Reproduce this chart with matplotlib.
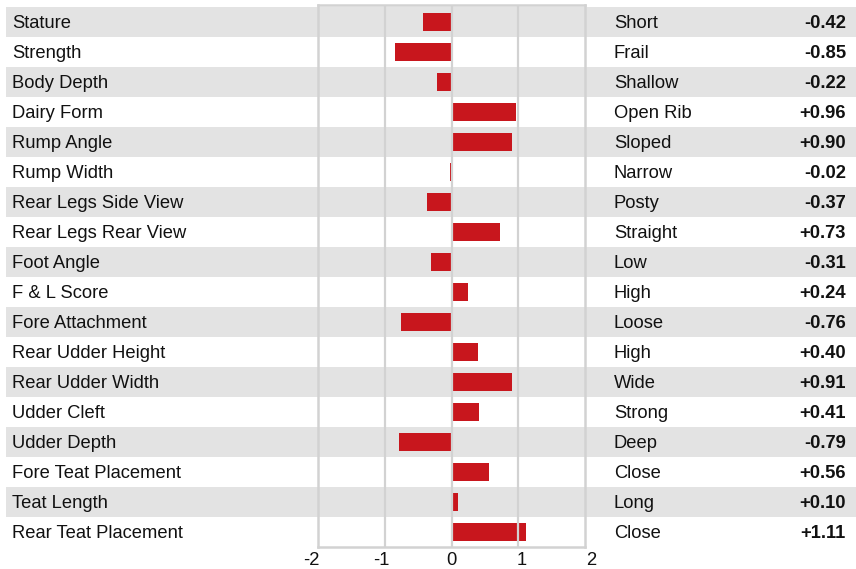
import matplotlib
matplotlib.use('Agg')
import matplotlib.pyplot as plt
from matplotlib.patches import Rectangle
from matplotlib.transforms import blended_transform_factory

traits = ['Stature', 'Strength', 'Body Depth', 'Dairy Form', 'Rump Angle', 'Rump Width',
          'Rear Legs Side View', 'Rear Legs Rear View', 'Foot Angle', 'F & L Score',
          'Fore Attachment', 'Rear Udder Height', 'Rear Udder Width', 'Udder Cleft',
          'Udder Depth', 'Fore Teat Placement', 'Teat Length', 'Rear Teat Placement']
descriptors = ['Short', 'Frail', 'Shallow', 'Open Rib', 'Sloped', 'Narrow',
               'Posty', 'Straight', 'Low', 'High', 'Loose', 'High', 'Wide', 'Strong',
               'Deep', 'Close', 'Long', 'Close']
values = [-0.42, -0.85, -0.22, 0.96, 0.90, -0.02, -0.37, 0.73, -0.31, 0.24,
          -0.76, 0.40, 0.91, 0.41, -0.79, 0.56, 0.10, 1.11]
x_ticks = [-2, -1, 0, 1, 2]

plt.rcParams['font.family'] = ['Liberation Sans', 'DejaVu Sans']

W, H = 856, 569
row_top, row_h = 7, 30
band_color = '#e3e3e3'
bar_color = '#c8161d'
line_color = '#d2d2d2'
font_size = 13.2
base_off = 6  # baseline offset below row centre, px

fig = plt.figure(figsize=(W / 100, H / 100), dpi=100)

# background layer in pixel coordinates: bands and text columns
bg = fig.add_axes([0, 0, 1, 1])
bg.set_xlim(0, W)
bg.set_ylim(H, 0)
bg.axis('off')
for i, (trait, desc, val) in enumerate(zip(traits, descriptors, values)):
    y0 = row_top + row_h * i
    if i % 2 == 0:
        bg.add_patch(Rectangle((6, y0), W - 6, row_h, color=band_color, lw=0))
    yb = y0 + row_h / 2 + base_off
    bg.text(12, yb, trait, ha='left', va='baseline', fontsize=font_size, color='#111111')
    bg.text(614, yb, desc, ha='left', va='baseline', fontsize=font_size, color='#111111')
    bg.text(846, yb, '%+.2f' % val, ha='right', va='baseline', fontsize=font_size,
            fontweight='bold', color='#111111')

# bar panel
px_left, px_right, px_top, px_bottom = 318, 585, 5, 547
ax = fig.add_axes([px_left / W, (H - px_bottom) / H,
                   (px_right - px_left) / W, (px_bottom - px_top) / H])
ax.patch.set_alpha(0)
rows = list(range(len(values)))
ax.barh(rows, values, height=0.6, color=bar_color, zorder=2)
ax.set_xlim(-2, 2)
center0 = row_top + row_h / 2
ax.set_ylim((px_bottom - center0) / row_h, (px_top - center0) / row_h)
ax.set_yticks([])
ax.set_xticks([])
for t in x_ticks[1:-1]:
    ax.axvline(t, color=line_color, lw=1.6, zorder=3)
for s in ax.spines.values():
    s.set_color(line_color)
    s.set_linewidth(1.8)

# axis numbers sit on a slightly wider spacing than the grid
lab_tr = blended_transform_factory(ax.transData, bg.transData)
for t in x_ticks:
    bg.text(t * 1.05, 565, str(t), transform=lab_tr, ha='center',
            va='baseline', fontsize=font_size, color='#111111')

fig.savefig('out.png', dpi=100)
